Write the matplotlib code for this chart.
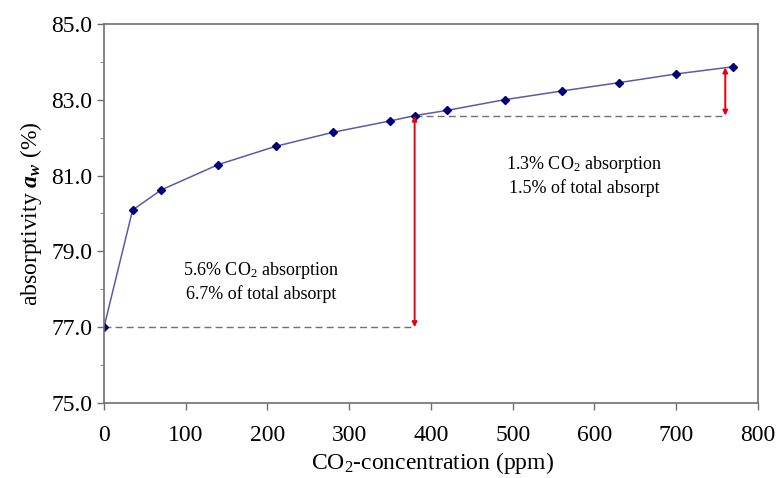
import matplotlib
matplotlib.use('Agg')
import matplotlib.pyplot as plt
import numpy as np

# data
co2_ppm = [0, 35, 70, 140, 210, 280, 350, 380, 420, 490, 560, 630, 700, 770]
absorptivity = [77.0, 80.09, 80.62, 81.29, 81.77, 82.14, 82.44, 82.58, 82.72,
                83.0, 83.23, 83.45, 83.68, 83.87]
x_ticks = [0, 100, 200, 300, 400, 500, 600, 700, 800]
y_ticks = [75.0, 77.0, 79.0, 81.0, 83.0, 85.0]
ref_level = 77.0
today_ppm = 380
today_level = 82.58
double_ppm = 760
double_level = 83.85
note_left = '5.6% CO$_2$ absorption\n6.7% of total absorpt'
note_right = '1.3% CO$_2$ absorption\n1.5% of total absorpt'

plt.rcParams['font.family'] = 'Liberation Serif'
plt.rcParams['mathtext.fontset'] = 'custom'
plt.rcParams['mathtext.rm'] = 'Liberation Serif'
plt.rcParams['mathtext.it'] = 'Liberation Serif:italic'
plt.rcParams['mathtext.bf'] = 'Liberation Serif:bold:italic'

fig = plt.figure(figsize=(7.79, 4.78), dpi=100)
ax = fig.add_axes([0.1335, 0.157, 0.8395, 0.793])

grey = '#707070'
# dashed reference levels
ax.plot([0, today_ppm], [ref_level, ref_level], ls=(0, (5, 3)), color=grey, lw=1.0)
ax.plot([today_ppm, double_ppm], [today_level, today_level], ls=(0, (5, 3)),
        color=grey, lw=1.0)

# red double arrows
arrow = dict(arrowstyle='<|-|>', color='#e8000b', lw=1.4, mutation_scale=7,
             shrinkA=0, shrinkB=0)
ax.annotate('', xy=(today_ppm, ref_level), xytext=(today_ppm, today_level),
            arrowprops=arrow)
ax.annotate('', xy=(double_ppm, today_level), xytext=(double_ppm, double_level),
            arrowprops=arrow)

ax.plot(co2_ppm, absorptivity, color='#5b5ba6', lw=1.1, marker='D', ms=3.6,
        mfc='#00007a', mec='#00007a')

ax.text(192, 78.2, note_left, ha='center', va='center', fontsize=13,
        linespacing=1.25)
ax.text(587, 81.0, note_right, ha='center', va='center', fontsize=13,
        linespacing=1.25)

ax.set_xlim(0, 800)
ax.set_ylim(75, 85)
ax.set_xticks(x_ticks)
ax.set_yticks(y_ticks)
ax.set_yticks(np.arange(76, 85, 2), minor=True)
ax.set_yticklabels(['%.1f' % v for v in y_ticks])
ax.tick_params(axis='both', labelsize=17, color=grey, length=5, width=1.0)
ax.tick_params(axis='x', pad=11)
ax.tick_params(axis='y', which='minor', length=3, color=grey)
for sp in ax.spines.values():
    sp.set_color(grey)
    sp.set_linewidth(1.2)

ax.set_xlabel('CO$_2$-concentration (ppm)', fontsize=17)
ax.xaxis.set_label_coords(0.5025, -0.125)
ax.set_ylabel(r'absorptivity $\mathbf{a_w}$ (%)', fontsize=17, labelpad=5)

fig.savefig('out.png', dpi=100)
